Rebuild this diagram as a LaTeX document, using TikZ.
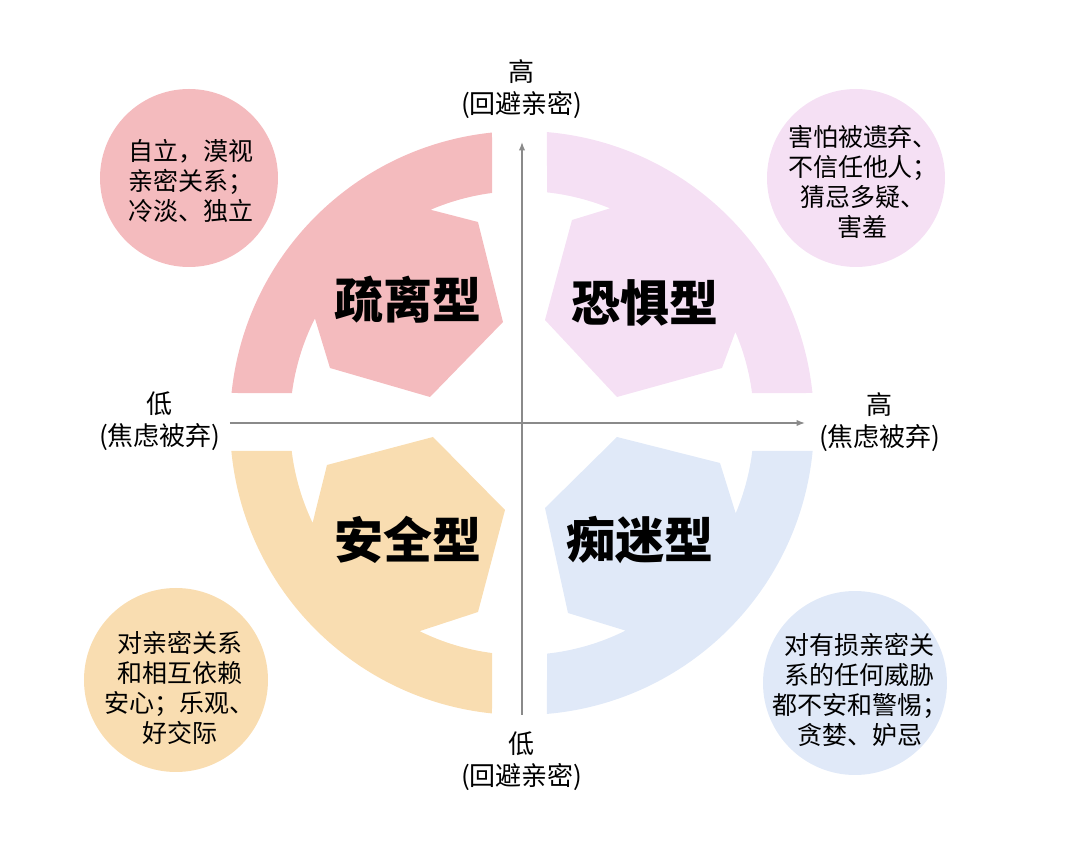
\documentclass[tikz,border=0pt]{standalone}
\usepackage{fontspec}
\setmainfont{Noto Sans CJK SC}
\usetikzlibrary{arrows.meta,calc}
\definecolor{avoidPink}{HTML}{F4BBBE}
\definecolor{fearLilac}{HTML}{F5E0F4}
\definecolor{securePeach}{HTML}{F9DDB1}
\definecolor{anxiousBlue}{HTML}{E0E9F8}
\definecolor{axisGray}{HTML}{8A8A8A}

\begin{document}
\begin{tikzpicture}[x=1pt,y=1pt,>=Latex]
  \tikzstyle{typelabel}=[font=\fontsize{49}{52}\selectfont\bfseries,inner sep=0pt]
  \tikzstyle{notedisc}=[circle,minimum size=178pt,inner sep=0pt]
  \tikzstyle{notetext}=[align=center,font=\fontsize{25}{30}\selectfont,inner sep=0pt]
  \tikzstyle{axislabel}=[align=center,font=\fontsize{26}{32}\selectfont,inner sep=0pt]
  \tikzstyle{axisline}=[draw=axisGray,line width=1.2pt]
  \useasboundingbox (-522,-430) rectangle (558,423);
  % quarter bands with their inner plates
  \fill[avoidPink] (174.1:292pt) arc[start angle=174.1,end angle=95.9,radius=292pt] -- (97.4:232pt) arc[start angle=97.4,end angle=113.2,radius=232pt]
    -- (-44,201) -- (-19,101) -- (-92,26) -- (-192,55) -- (153.2:232pt) arc[start angle=153.2,end angle=172.6,radius=232pt] -- cycle;
  \fill[fearLilac] (85.1:292pt) arc[start angle=85.1,end angle=5.9,radius=292pt] -- (7.4:232pt) arc[start angle=7.4,end angle=23.1,radius=232pt]
    -- (200,55) -- (95,26) -- (23,103) -- (50,203) -- (67.7:232pt) arc[start angle=67.7,end angle=83.8,radius=232pt] -- cycle;
  \fill[securePeach] (185.5:292pt) arc[start angle=185.5,end angle=264.1,radius=292pt] -- (262.6:232pt) arc[start angle=262.6,end angle=243.8,radius=232pt]
    -- (-44,-189) -- (-17,-87) -- (-89,-14) -- (-195,-42) -- (205.5:232pt) arc[start angle=205.5,end angle=186.9,radius=232pt] -- cycle;
  \fill[anxiousBlue] (-5.5:292pt) arc[start angle=-5.5,end angle=-85.1,radius=292pt] -- (-83.8:232pt) arc[start angle=-83.8,end angle=-63.5,radius=232pt]
    -- (46,-190) -- (23,-85) -- (95,-14) -- (198,-40) -- (-22.9:232pt) arc[start angle=-22.9,end angle=-6.9,radius=232pt] -- cycle;
  % corner notes
  \node[notedisc,fill=avoidPink] (avoidDisc) at (-333,245) {};
  \node[notedisc,fill=fearLilac] (fearDisc) at (334,245) {};
  \node[notedisc,fill=securePeach,minimum size=184pt] (secureDisc) at (-346,-257) {};
  \node[notedisc,fill=anxiousBlue,minimum size=184pt] (anxiousDisc) at (333,-260) {};
  \node[notetext,align=left] (avoidNote) at ($(avoidDisc)+(2,-3)$) {自立，漠视\\亲密关系；\\冷淡、独立};
  \node[notetext] (fearNote) at ($(fearDisc)+(7,-4)$) {害怕被遗弃、\\不信任他人；\\猜忌多疑、\\害羞};
  \node[notetext] (secureNote) at ($(secureDisc)+(4,-8)$) {对亲密关系\\和相互依赖\\安心；乐观、\\好交际};
  \node[notetext] (anxiousNote) at ($(anxiousDisc)+(5,-7)$) {对有损亲密关\\系的任何威胁\\都不安和警惕；\\贪婪、妒忌};
  % axes
  \coordinate (axisS) at (0,-292);
  \coordinate (axisN) at (0,281);
  \coordinate (axisW) at (-292,0);
  \coordinate (axisE) at (283,0);
  \draw[axisline,->] (axisS) -- (axisN);
  \draw[axisline,->] (axisW) -- (axisE);
  \node[axislabel] (avoidHigh) at (0,334) {高\\(回避亲密)};
  \node[axislabel] (avoidLow) at (0,-338) {低\\(回避亲密)};
  \node[axislabel] (anxLow) at (-362,2) {低\\(焦虑被弃)};
  \node[axislabel] (anxHigh) at (358,1) {高\\(焦虑被弃)};
  \node[typelabel] (dismissing) at (-114,123) {疏离型};
  \node[typelabel] (fearful) at (123,120) {恐惧型};
  \node[typelabel] (secure) at (-114,-117) {安全型};
  \node[typelabel] (preoccupied) at (118,-117) {痴迷型};
\end{tikzpicture}
\end{document}
